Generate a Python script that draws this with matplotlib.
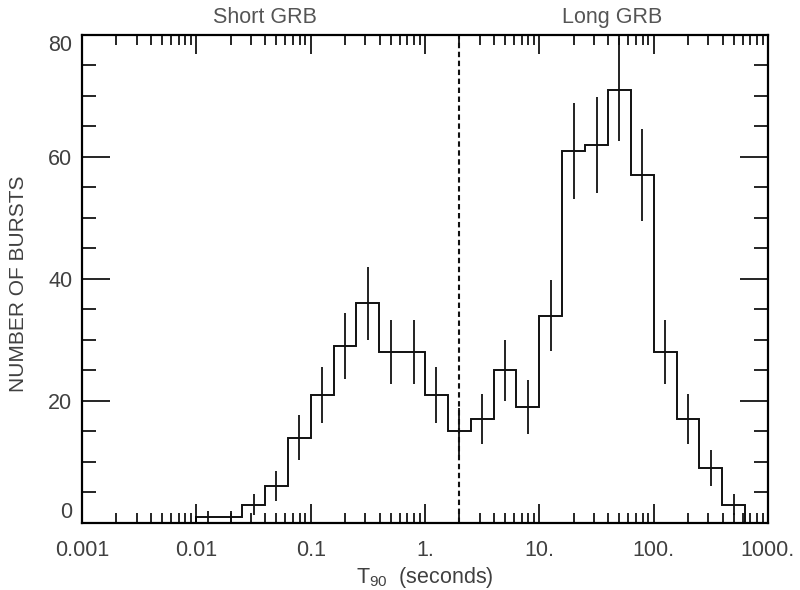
import numpy as np
import matplotlib
matplotlib.use('Agg')
import matplotlib.pyplot as plt
from matplotlib.ticker import LogLocator, NullFormatter, MultipleLocator

plt.rcParams['font.family'] = ['Liberation Sans', 'DejaVu Sans']
plt.rcParams['mathtext.fontset'] = 'custom'
plt.rcParams['mathtext.rm'] = 'Liberation Sans'

# T90 histogram, bins of 0.2 in log10(seconds) from 0.001 s to 1000 s
log_edges = np.round(np.arange(-3.0, 3.0001, 0.2), 1)
counts = np.array([0, 0, 0, 0, 0,
                   1, 1, 3, 6, 14, 21, 29, 36, 28, 28,
                   21, 15, 17, 25, 19, 34, 61, 62, 71, 57,
                   28, 17, 9, 3, 0])
divide_t90 = 2.0

xtick_vals = [0.001, 0.01, 0.1, 1, 10, 100, 1000]
xtick_labels = ['0.001', '0.01', '0.1', '1.', '10.', '100.', '1000.']
ytick_vals = [0, 20, 40, 60, 80]

edges = 10.0 ** log_edges
centers = 10.0 ** ((log_edges[:-1] + log_edges[1:]) / 2)
errors = np.sqrt(counts)
has_counts = counts > 0

fig = plt.figure(figsize=(8, 5.9), dpi=100)
ax = fig.add_axes([0.1025, 0.1136, 0.8575, 0.8271])

ax.stairs(counts, edges, color='#111111', lw=1.4, baseline=0)
ax.vlines(centers[has_counts], (counts - errors)[has_counts], (counts + errors)[has_counts],
          color='#111111', lw=1.3)
ax.axvline(divide_t90, color='#111111', lw=1.5, ls=(0, (2.6, 1.7)))

ax.set_xscale('log')
ax.set_xlim(1e-3, 1e3)
ax.set_ylim(0, 80)

ax.set_xticks(xtick_vals, xtick_labels)
ax.xaxis.set_minor_locator(LogLocator(base=10, subs=np.arange(2, 10), numticks=100))
ax.xaxis.set_minor_formatter(NullFormatter())
ax.set_yticks(ytick_vals)
ax.yaxis.set_minor_locator(MultipleLocator(5))

ax.tick_params(which='both', direction='in', top=True, right=True, color='black', width=1.2)
ax.tick_params(axis='x', which='major', length=13.5, pad=12)
ax.tick_params(axis='x', which='minor', length=7)
ax.tick_params(axis='y', which='major', length=20, pad=7)
ax.tick_params(axis='y', which='minor', length=10)
ax.tick_params(axis='both', labelsize=15.5, labelcolor='#404040')

ylabels = ax.get_yticklabels()
ylabels[0].set_va('bottom')
ylabels[-1].set_va('top')

for side in ax.spines.values():
    side.set_linewidth(1.6)
    side.set_color('black')

ax.set_xlabel(r'T$_{\mathregular{90}}$  (seconds)', fontsize=15.5, color='#404040', labelpad=3)
ax.set_ylabel('NUMBER OF BURSTS', fontsize=15, color='#404040')
ax.yaxis.set_label_coords(-0.078, 0.49)

ax.text(0.04, 1.015, 'Short GRB', transform=ax.get_xaxis_transform(),
        ha='center', va='bottom', fontsize=15.5, color='#555555')
ax.text(43, 1.015, 'Long GRB', transform=ax.get_xaxis_transform(),
        ha='center', va='bottom', fontsize=15.5, color='#555555')

fig.savefig('out.png', dpi=100)
